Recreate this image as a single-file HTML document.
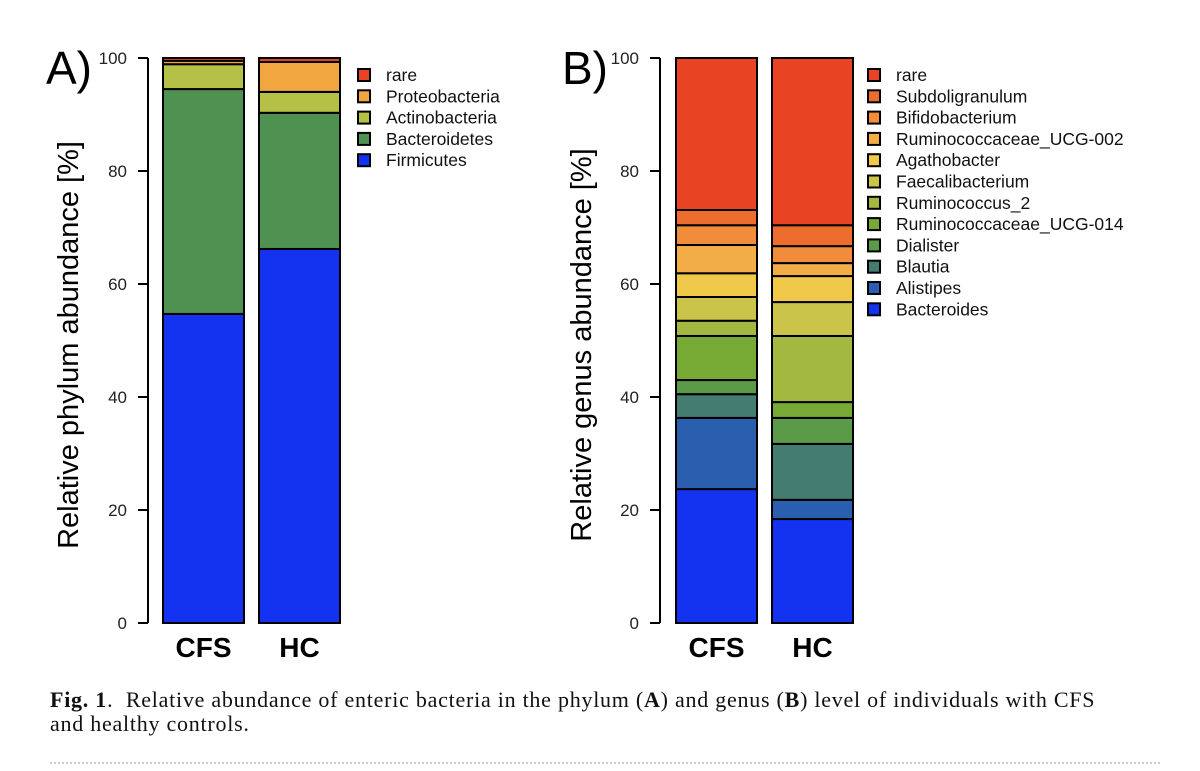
<!DOCTYPE html>
<html><head><meta charset="utf-8"><style>
body{margin:0;background:#fff;width:1200px;height:771px;overflow:hidden;}
svg text{font-family:"Liberation Sans",sans-serif;}
.cap{position:absolute;left:50px;top:688px;font-family:"Liberation Serif",serif;font-size:22px;letter-spacing:0.75px;line-height:24px;color:#111;width:1140px;}
.dots{position:absolute;left:50px;top:762px;width:1110px;border-top:2px dotted #ccc;}
</style></head><body>
<svg id="chart" width="1200" height="690" style="position:absolute;left:0;top:0"></svg>
<div class="cap"><b>Fig. 1</b>.&nbsp; Relative abundance of enteric bacteria in the phylum (<b>A</b>) and genus (<b>B</b>) level of individuals with CFS<br>and healthy controls.</div>
<div class="dots"></div>
<script>
const categories = ["CFS","HC"];
const ticks = [0,20,40,60,80,100];
const phylumNames = ["Firmicutes","Bacteroidetes","Actinobacteria","Proteobacteria","rare"];
const phylumCFS = [54.7,39.8,4.4,0.6,0.5];
const phylumHC = [66.2,24.1,3.7,5.3,0.7];
const phylumColors = ["#1433f0","#4f9150","#b5c046","#f2a640","#e84424"];
const genusNames = ["Bacteroides","Alistipes","Blautia","Dialister","Ruminococcaceae_UCG-014","Ruminococcus_2","Faecalibacterium","Agathobacter","Ruminococcaceae_UCG-002","Bifidobacterium","Subdoligranulum","rare"];
const genusCFS = [23.7,12.6,4.2,2.5,7.8,2.7,4.2,4.2,5.0,3.5,2.7,26.9];
const genusHC = [18.4,3.4,9.9,4.6,2.8,11.7,6.0,4.6,2.3,3.0,3.7,29.6];
const genusColors = ["#1433f0","#2a5fb0","#447c72","#5a9a48","#77aa35","#a2b840","#cbc44a","#f0c94a","#f2ad46","#f08c3a","#ec6d2e","#e84424"];

const svg = document.getElementById('chart');
const NS = "http://www.w3.org/2000/svg";
function mk(tag, attrs, parent){const e=document.createElementNS(NS,tag);for(const k in attrs)e.setAttribute(k,attrs[k]);(parent||svg).appendChild(e);return e;}
const y = v => 623 - v*5.65;

function panel(o){
  const g = mk('g',{});
  
  
  const t = mk('text',{x:o.lx,y:84,'font-size':46},g); t.textContent=o.letter;
  
  
  const ax = mk('line',{x1:o.ax,x2:o.ax,y1:y(0),y2:y(100),stroke:'#000','stroke-width':2},g);
  
  
  ticks.forEach(v=>{
    mk('line',{x1:o.ax-10,x2:o.ax,y1:y(v),y2:y(v),stroke:'#000','stroke-width':2},g);
    const tl = mk('text',{x:o.ax-21,y:y(v)+6,'font-size':17,'text-anchor':'end',fill:'#222'},g);
    tl.textContent=v;
    
    
  });
  const yl = mk('text',{x:0,y:0,'font-size':29,'text-anchor':'middle',transform:`translate(${o.ylx},345) rotate(-90)`},g);
  yl.textContent=o.ytitle;
  
  
  [o.cfs,o.hc].forEach((vals,i)=>{
    const bx = o.bx + i*96;
    let c=0;
    vals.forEach((v,j)=>{
      const r = mk('rect',{x:bx,y:y(c+v),width:81,height:v*5.65,fill:o.colors[j],stroke:'#000','stroke-width':2},g);
      
      
      c+=v;
    });
    const cl = mk('text',{x:bx+40.5,y:657,'font-size':28,'font-weight':'bold','text-anchor':'middle'},g);
    cl.textContent=categories[i];
    
    
  });
  const n=o.names.length;
  for(let k=0;k<n;k++){
    const j=n-1-k, cy=75+k*21.3;
    const le = mk('g',{},g);
    
    
    mk('rect',{x:o.legx,y:cy-6,width:12,height:12,fill:o.colors[j],stroke:'#000','stroke-width':2},le);
    const lt = mk('text',{x:o.legx+28,y:cy+6,'font-size':17.5,fill:'#111'},le);
    lt.textContent=o.names[j];
  }
}
panel({id:'phylum',letter:'A)',lx:46,ax:148,ylx:78,bx:163,ytitle:'Relative phylum abundance [%]',cfs:phylumCFS,hc:phylumHC,colors:phylumColors,names:phylumNames,legx:358});
panel({id:'genus',letter:'B)',lx:562,ax:660,ylx:591,bx:676,ytitle:'Relative genus abundance [%]',cfs:genusCFS,hc:genusHC,colors:genusColors,names:genusNames,legx:868});
</script>
</body></html>
